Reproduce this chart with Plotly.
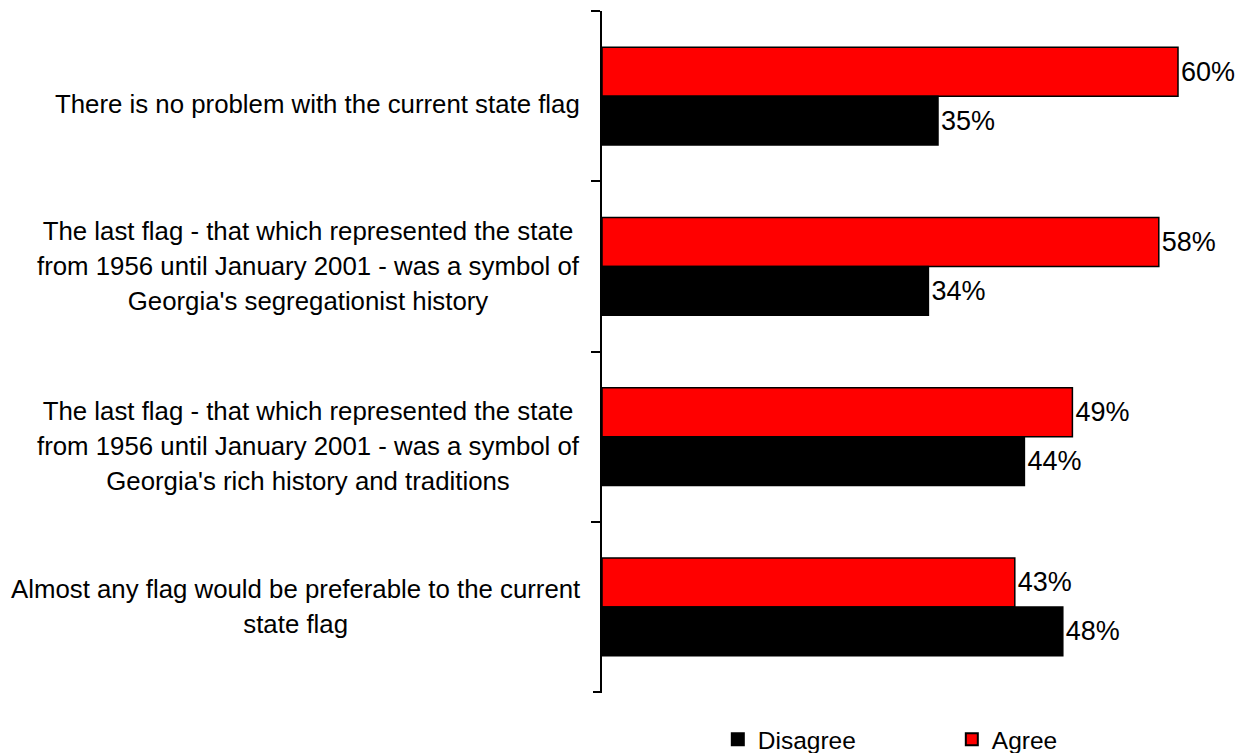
import plotly.graph_objects as go

# Survey statements (top to bottom)
statements = [
    "There is no problem with the current state flag",
    "The last flag - that which represented the state<br>from 1956 until January 2001 - was a symbol of<br>Georgia's segregationist history",
    "The last flag - that which represented the state<br>from 1956 until January 2001 - was a symbol of<br>Georgia's rich history and traditions",
    "Almost any flag would be preferable to the current<br>state flag",
]
cat_ids = ["s1", "s2", "s3", "s4"]

agree = [60, 58, 49, 43]
disagree = [35, 34, 44, 48]

# vertical nudge (px) of each statement label
label_shift = [-8, 0, -9, 0]

FONT = "Liberation Sans, Arial, sans-serif"

fig = go.Figure()
fig.add_trace(go.Bar(
    y=cat_ids, x=agree, orientation="h", name="Agree",
    marker=dict(color="#ff0000", line=dict(color="black", width=1.5)),
    text=[f"{v}%" for v in agree], textposition="outside",
    textfont=dict(size=27, color="black", family=FONT),
    cliponaxis=False, legendrank=2,
))
fig.add_trace(go.Bar(
    y=cat_ids, x=disagree, orientation="h", name="Disagree",
    marker=dict(color="#000000", line=dict(color="black", width=1.5)),
    text=[f"{v}%" for v in disagree], textposition="outside",
    textfont=dict(size=27, color="black", family=FONT),
    cliponaxis=False, legendrank=1,
))

# Category labels, centred lines, drawn left of the axis
for cid, label, dy in zip(cat_ids, statements, label_shift):
    lines = label.split("<br>")
    txt = "<br>".join(f'<span style="font-size:25.8px">{ln}</span>' for ln in lines)
    fig.add_annotation(
        x=0, xref="paper", xanchor="right", xshift=-20,
        y=cid, yref="y", yanchor="middle", yshift=dy,
        text=txt, align="center", showarrow=False,
        font=dict(size=27, color="black", family=FONT),
    )

# closing tick at the bottom end of the category axis
fig.add_shape(
    type="line", xref="paper", xsizemode="pixel", xanchor=0,
    x0=-9, x1=0, yref="y", y0=3.5, y1=3.5,
    line=dict(color="black", width=2),
)

px_per_pct = 9.6
plot_w = 1249 - 602
fig.update_layout(
    width=1249, height=753,
    margin=dict(l=602, r=0, t=11, b=60, autoexpand=False),
    paper_bgcolor="white", plot_bgcolor="white",
    barmode="group", bargap=0.425, bargroupgap=0,
    font=dict(family=FONT, size=20, color="black"),
    xaxis=dict(range=[0, plot_w / px_per_pct], visible=False),
    yaxis=dict(
        type="category", autorange="reversed",
        showticklabels=False, tickson="boundaries",
        ticks="outside", ticklen=9, tickwidth=2, tickcolor="black",
        showline=True, linewidth=2, linecolor="black",
        showgrid=False, zeroline=False,
    ),
    showlegend=True,
    legend=dict(
        orientation="h", x=0.179, xanchor="left",
        y=-0.068, yanchor="middle",
        font=dict(size=24.5, family=FONT),
        entrywidth=189, entrywidthmode="pixels",
        itemsizing="constant",
    ),
)

fig.write_html("out.html")
